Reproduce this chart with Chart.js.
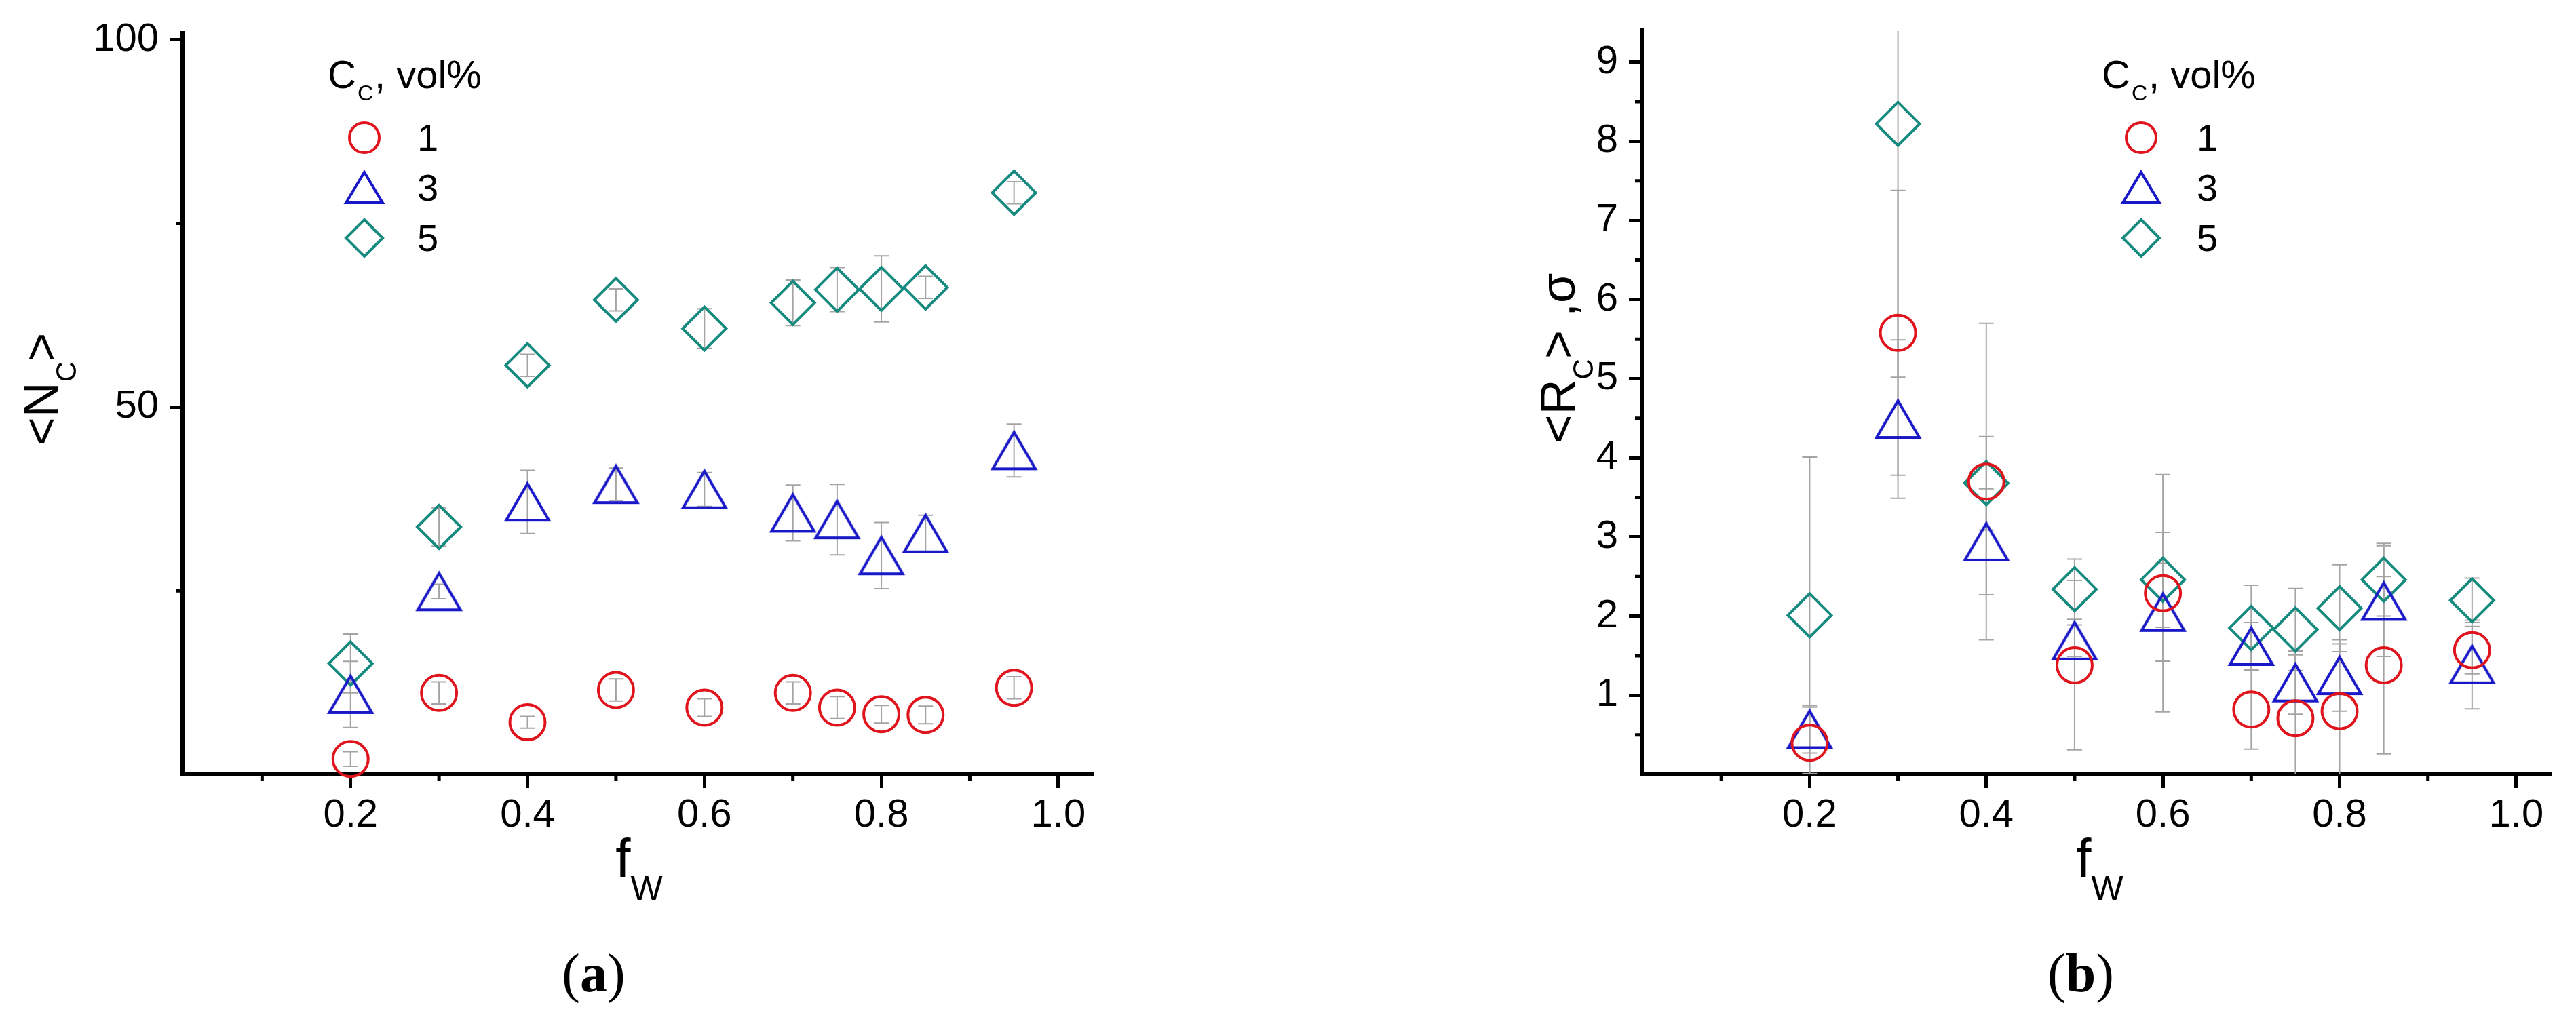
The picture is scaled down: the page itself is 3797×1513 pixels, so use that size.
<!DOCTYPE html>
<html>
<head>
<meta charset="utf-8">
<script src="https://cdn.jsdelivr.net/npm/chart.js@4.4.1/dist/chart.umd.min.js"></script>
<style>
  html, body { margin: 0; padding: 0; background: #fff; }
  body { width: 3797px; height: 1513px; position: relative; overflow: hidden; }
  canvas { position: absolute; top: 0; }
  #chartA { left: 0; }
  #chartB { left: 1900px; }
</style>
</head>
<body>
<canvas id="chartA" width="1900" height="1513"></canvas>
<canvas id="chartB" width="1897" height="1513"></canvas>
<script>
// water fraction values shared by both panels
const fw = [0.2, 0.3, 0.4, 0.5, 0.6, 0.7, 0.75, 0.8, 0.85, 0.95];
const seriesLabels = ['1', '3', '5'];

// (a) <N_C>
const nc1 = [2.1, 11.1, 7.1, 11.5, 9.1, 11.1, 9.1, 8.2, 8.1, 11.8];
const nc3 = [10.9, 24.9, 37.1, 39.5, 38.8, 35.6, 34.7, 29.8, 32.8, 44.1];
const nc5 = [15.1, 33.7, 55.7, 64.6, 60.7, 64.2, 66.0, 66.1, 66.3, 79.2];
const nc1Err = [1.0, 1.5, 0.8, 1.5, 1.2, 1.5, 1.5, 1.2, 1.2, 1.5];
const nc3Err = [4.5, 1.0, 4.3, 2.2, 2.3, 3.8, 4.8, 4.5, 2.5, 3.6];
const nc5Err = [4.0, 2.6, 1.5, 1.5, 2.7, 3.1, 3.0, 4.5, 1.5, 1.5];

// (b) <R_C>, sigma
const rc1 = [0.4, 5.58, 3.7, 1.38, 2.29, 0.82, 0.71, 0.80, 1.38, 1.57];
const rc3 = [0.57, 4.49, 2.94, 1.69, 2.05, 1.62, 1.16, 1.25, 2.19, 1.39];
const rc5 = [2.01, 8.22, 3.68, 2.34, 2.46, 1.85, 1.83, 2.10, 2.46, 2.20];
const rc1Err = [0.45, 1.8, 2.0, 1.07, 1.5, 0.5, 0.8, 0.85, 1.12, 0.3];
const rc3Err = [0.3, 1.0, 0.67, 0.2, 0.62, 0.3, 0.4, 0.45, 0.7, 0.56];
const rc5Err = [2.0, 3.2, 0.59, 0.38, 0.6, 0.54, 0.52, 0.55, 0.46, 0.28];

// ticks
const xMajor = [0.2, 0.4, 0.6, 0.8, 1.0];
const xMinor = [0.1, 0.3, 0.5, 0.7, 0.9];
const ncMajor = [50, 100];
const ncMinor = [25, 75];
const rcMajor = [1, 2, 3, 4, 5, 6, 7, 8, 9];
const rcMinor = [0.5, 1.5, 2.5, 3.5, 4.5, 5.5, 6.5, 7.5, 8.5];

const RED = '#e0141c';
const BLUE = '#1818c8';
const TEAL = '#178a80';
const SANS = "'Liberation Sans', Arial, sans-serif";
const SERIF = "'Liberation Serif', 'Times New Roman', serif";

function makeTriangle(w, h, color, lw) {
    const m = lw + 1;
    const c = document.createElement('canvas');
    c.width = Math.ceil(w + 2 * m);
    c.height = Math.ceil(h + 2 * m);
    const g = c.getContext('2d');
    g.strokeStyle = color;
    g.lineWidth = lw;
    g.lineJoin = 'miter';
    g.beginPath();
    g.moveTo(m, m + h);
    g.lineTo(m + w / 2, m);
    g.lineTo(m + w, m + h);
    g.closePath();
    g.stroke();
    return c;
}

function drawRich(ctx, parts, x, y, rotate) {
    ctx.save();
    ctx.translate(x, y);
    if (rotate) ctx.rotate(-Math.PI / 2);
    ctx.textAlign = 'left';
    ctx.textBaseline = 'alphabetic';
    ctx.fillStyle = '#000';
    let total = 0;
    parts.forEach(p => {
        ctx.font = (p.bold ? 'bold ' : '') + p.size + 'px ' + (p.family || SANS);
        p.w = ctx.measureText(p.t).width;
        total += p.w;
    });
    let cx = -total / 2;
    parts.forEach(p => {
        ctx.font = (p.bold ? 'bold ' : '') + p.size + 'px ' + (p.family || SANS);
        ctx.fillText(p.t, cx, p.dy || 0);
        cx += p.w;
    });
    ctx.restore();
}

function legendMarker(ctx, kind, x, y, color) {
    ctx.save();
    ctx.strokeStyle = color;
    ctx.lineWidth = 4;
    ctx.beginPath();
    if (kind === 'circle') {
        ctx.arc(x, y, 22, 0, Math.PI * 2);
    } else if (kind === 'triangle') {
        ctx.moveTo(x - 27, y + 22);
        ctx.lineTo(x, y - 23);
        ctx.lineTo(x + 27, y + 22);
        ctx.closePath();
    } else {
        ctx.moveTo(x, y - 27);
        ctx.lineTo(x + 27, y);
        ctx.lineTo(x, y + 27);
        ctx.lineTo(x - 27, y);
        ctx.closePath();
    }
    ctx.stroke();
    ctx.restore();
}

// error bars, minor ticks, legend and titles
const decorPlugin = {
    id: 'decor',
    beforeDatasetsDraw(chart) {
        const ctx = chart.ctx;
        const area = chart.chartArea;
        const ys = chart.scales.y;
        ctx.save();
        ctx.beginPath();
        ctx.rect(area.left, area.top, area.right - area.left, area.bottom - area.top);
        ctx.clip();
        ctx.strokeStyle = '#a4a4a4';
        ctx.lineWidth = 2;
        chart.data.datasets.forEach((ds, i) => {
            const meta = chart.getDatasetMeta(i);
            ds.errors.forEach((e, j) => {
                const pt = meta.data[j];
                const v = ds.data[j].y;
                const top = ys.getPixelForValue(v + e);
                const bot = ys.getPixelForValue(v - e);
                ctx.beginPath();
                ctx.moveTo(pt.x, top);
                ctx.lineTo(pt.x, bot);
                ctx.moveTo(pt.x - 11, top);
                ctx.lineTo(pt.x + 11, top);
                ctx.moveTo(pt.x - 11, bot);
                ctx.lineTo(pt.x + 11, bot);
                ctx.stroke();
            });
        });
        ctx.restore();
    },
    afterDraw(chart, args, opts) {
        const ctx = chart.ctx;
        const xs = chart.scales.x;
        const ys = chart.scales.y;
        const area = chart.chartArea;
        ctx.save();
        ctx.strokeStyle = '#000';
        ctx.lineWidth = 5;
        ctx.beginPath();
        opts.minorX.forEach(v => {
            const px = xs.getPixelForValue(v);
            ctx.moveTo(px, area.bottom);
            ctx.lineTo(px, area.bottom + 10);
        });
        opts.minorY.forEach(v => {
            const py = ys.getPixelForValue(v);
            ctx.moveTo(area.left, py);
            ctx.lineTo(area.left - 10, py);
        });
        ctx.stroke();
        ctx.restore();

        // legend
        const lg = opts.legend;
        ctx.save();
        ctx.fillStyle = '#000';
        ctx.textAlign = 'left';
        ctx.textBaseline = 'alphabetic';
        ctx.font = '58px ' + SANS;
        ctx.fillText('C', lg.x, lg.y);
        let w = ctx.measureText('C').width;
        ctx.font = '32px ' + SANS;
        ctx.fillText('C', lg.x + w + 2, lg.y + 18);
        w += ctx.measureText('C').width + 4;
        ctx.font = '58px ' + SANS;
        ctx.fillText(', vol%', lg.x + w, lg.y);
        const kinds = ['circle', 'triangle', 'diamond'];
        chart.data.datasets.forEach((ds, i) => {
            const ry = lg.y + 73 + i * 74;
            legendMarker(ctx, kinds[i], lg.x + lg.mx, ry, ds.pointBorderColor);
            ctx.font = '56px ' + SANS;
            ctx.fillStyle = '#000';
            ctx.fillText(ds.label, lg.x + lg.tx, ry + 19);
        });
        ctx.restore();

        drawRich(ctx, opts.yTitle, opts.yTitlePos[0], opts.yTitlePos[1], true);
        drawRich(ctx, [
            { t: 'f', size: 80 },
            { t: 'W', size: 50, dy: 34 }
        ], opts.xTitlePos[0], opts.xTitlePos[1], false);
        drawRich(ctx, [
            { t: '(', size: 80, family: SERIF },
            { t: opts.tag, size: 80, family: SERIF, bold: true },
            { t: ')', size: 80, family: SERIF }
        ], opts.tagPos[0], opts.tagPos[1], false);
    }
};

function points(ys) {
    return fw.map((x, i) => ({ x: x, y: ys[i] }));
}

function makeDatasets(s1, s3, s5, e1, e3, e5) {
    const common = { showLine: false, clip: false, pointBackgroundColor: 'rgba(0,0,0,0)', pointBorderWidth: 4 };
    return [
        Object.assign({}, common, { label: seriesLabels[0], data: points(s1), errors: e1,
            pointStyle: 'circle', pointRadius: 26, pointHoverRadius: 26, pointBorderColor: RED }),
        Object.assign({}, common, { label: seriesLabels[1], data: points(s3), errors: e3,
            pointStyle: makeTriangle(63, 54, BLUE, 4), pointRadius: 30, pointBorderColor: BLUE }),
        Object.assign({}, common, { label: seriesLabels[2], data: points(s5), errors: e5,
            pointStyle: 'rectRot', pointRadius: 32, pointHoverRadius: 32, pointBorderColor: TEAL })
    ];
}

function makeChart(id, cfg) {
    const canvas = document.getElementById(id);
    const H = canvas.height;
    const W = canvas.width;
    return new Chart(canvas, {
        type: 'scatter',
        data: { datasets: cfg.datasets },
        plugins: [decorPlugin],
        options: {
            responsive: false,
            animation: false,
            events: [],
            layout: { padding: { top: cfg.area.top, right: W - cfg.area.right, bottom: 0, left: 0 } },
            plugins: {
                legend: { display: false },
                tooltip: { enabled: false },
                decor: cfg.decor
            },
            scales: {
                x: {
                    type: 'linear',
                    min: 0.01,
                    max: 1.04,
                    afterBuildTicks: s => { s.ticks = xMajor.map(v => ({ value: v })); },
                    afterFit: s => { s.height = H - cfg.area.bottom; s.paddingLeft = 0; s.paddingRight = 0; },
                    ticks: {
                        callback: v => v.toFixed(1),
                        font: { family: SANS, size: 58 },
                        color: '#000',
                        padding: 6,
                        maxRotation: 0,
                        autoSkip: false
                    },
                    grid: { drawOnChartArea: false, tickLength: 20, tickWidth: 5, tickColor: '#000' },
                    border: { display: true, width: 6, color: '#000' }
                },
                y: {
                    type: 'linear',
                    min: cfg.yMin,
                    max: cfg.yMax,
                    afterBuildTicks: s => { s.ticks = cfg.yMajor.map(v => ({ value: v })); },
                    afterFit: s => { s.width = cfg.area.left; s.paddingTop = 0; s.paddingBottom = 0; },
                    ticks: {
                        callback: v => String(v),
                        font: { family: SANS, size: 58 },
                        color: '#000',
                        padding: 16,
                        autoSkip: false
                    },
                    grid: { drawOnChartArea: false, tickLength: 19, tickWidth: 5, tickColor: '#000' },
                    border: { display: true, width: 6, color: '#000' }
                }
            }
        }
    });
}

makeChart('chartA', {
    datasets: makeDatasets(nc1, nc3, nc5, nc1Err, nc3Err, nc5Err),
    area: { left: 269, top: 48, right: 1612, bottom: 1142 },
    yMin: 0, yMax: 101, yMajor: ncMajor,
    decor: {
        minorX: xMinor, minorY: ncMinor,
        legend: { x: 483, y: 130, mx: 54, tx: 132 },
        yTitle: [
            { t: '<', size: 72 }, { t: 'N', size: 72 },
            { t: 'C', size: 42, dy: 27 }, { t: '>', size: 72 }
        ],
        yTitlePos: [85, 574],
        xTitlePos: [942, 1293],
        tag: 'a', tagPos: [875, 1462]
    }
});

makeChart('chartB', {
    datasets: makeDatasets(rc1, rc3, rc5, rc1Err, rc3Err, rc5Err),
    area: { left: 520, top: 45, right: 1873, bottom: 1142 },
    yMin: 0, yMax: 9.4, yMajor: rcMajor,
    decor: {
        minorX: xMinor, minorY: rcMinor,
        legend: { x: 1198, y: 130, mx: 58, tx: 140 },
        yTitle: [
            { t: '<', size: 72 }, { t: 'R', size: 72 },
            { t: 'C', size: 42, dy: 27 }, { t: '>', size: 72 },
            { t: ' ,\u03c3', size: 72 }
        ],
        yTitlePos: [421, 528],
        xTitlePos: [1195, 1293],
        tag: 'b', tagPos: [1167, 1462]
    }
});
</script>
</body>
</html>
